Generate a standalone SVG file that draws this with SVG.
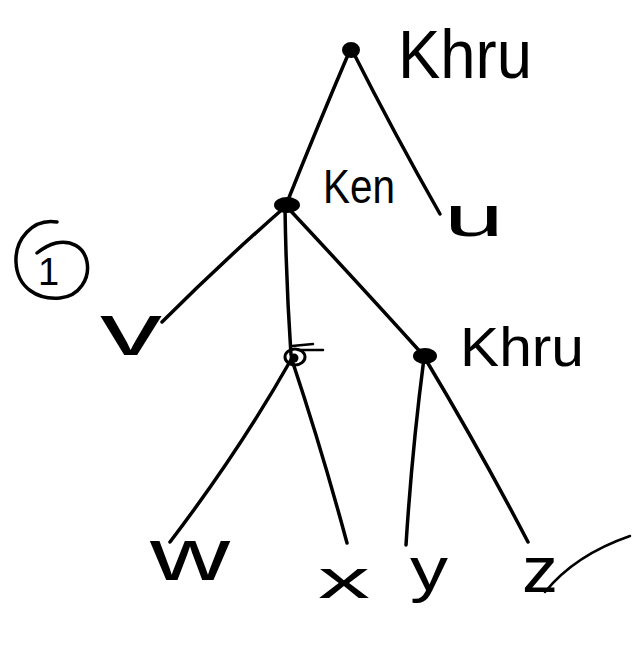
<svg xmlns="http://www.w3.org/2000/svg" width="639" height="646" viewBox="0 0 639 646">
  <style>
    .edge { fill: none; stroke: #000; stroke-width: 3.5; stroke-linecap: round; stroke-linejoin: round; }
    .dot { fill: #000; stroke: #000; stroke-width: 2; }
    .lbl { font-family: "Liberation Sans", "DejaVu Sans", sans-serif; fill: #000; }
  </style>
  <rect width="639" height="646" fill="#fff"/>

  <!-- connectors -->
  <g id="connectors">
    <path class="edge" d="M350 50 Q318 125 286 205"/>
    <path class="edge" d="M352 50 Q395 135 440 214"/>
    <path class="edge" d="M285 207 Q222 262 162 322"/>
    <path class="edge" d="M285 207 Q286 280 291 355"/>
    <path class="edge" d="M288 208 Q360 285 424 356"/>
    <path class="edge" d="M292 358 Q240 450 170 542"/>
    <path class="edge" d="M292 360 Q322 450 347 543"/>
    <path class="edge" d="M424 358 Q412 450 406 545"/>
    <path class="edge" d="M426 360 Q480 450 528 542"/>
    <!-- trailing pen stroke off the z -->
    <path class="edge" style="stroke-width:2.5" d="M545 592 Q575 555 630 536"/>
  </g>

  <!-- circled number -->
  <g id="tag">
    <path class="edge" d="M57 222 C32 218 15 240 16 262 C17 288 38 300 60 298 C80 296 90 278 87 262 C84 246 70 240 56 243 C48 245 42 249 37 253"/>
    <text class="lbl" x="38" y="285" font-size="38">1</text>
  </g>

  <g id="root">
    <ellipse class="dot" cx="351" cy="50" rx="8" ry="7"/>
    <text class="lbl" x="398" y="78" font-size="68" textLength="134" lengthAdjust="spacingAndGlyphs">Khru</text>
  </g>

  <g id="leaf-u">
    <text class="lbl" x="444" y="236" font-size="58" textLength="60" lengthAdjust="spacingAndGlyphs">u</text>
  </g>

  <g id="ken">
    <ellipse class="dot" cx="287" cy="205" rx="12" ry="7"/>
    <text class="lbl" x="323" y="203" font-size="48" textLength="72" lengthAdjust="spacingAndGlyphs">Ken</text>
  </g>

  <g id="leaf-v">
    <text class="lbl" x="100" y="355" font-size="74" textLength="62" lengthAdjust="spacingAndGlyphs">v</text>
  </g>

  <g id="mid">
    <ellipse cx="295" cy="357" rx="10" ry="8" fill="none" stroke="#000" stroke-width="3"/>
    <circle cx="294" cy="358" r="4.5" fill="#000"/>
    <path class="edge" style="stroke-width:2.5" d="M292 346 L313 344 M298 350 L323 350"/>
  </g>

  <g id="khru2">
    <ellipse class="dot" cx="425" cy="356" rx="11" ry="7"/>
    <text class="lbl" x="460" y="366" font-size="56" textLength="124" lengthAdjust="spacingAndGlyphs">Khru</text>
  </g>

  <g id="leaf-w">
    <text class="lbl" x="150" y="580" font-size="74" textLength="80" lengthAdjust="spacingAndGlyphs">w</text>
  </g>

  <g id="leaf-x">
    <text class="lbl" x="318" y="598" font-size="56" textLength="52" lengthAdjust="spacingAndGlyphs">x</text>
  </g>

  <g id="leaf-y">
    <text class="lbl" x="410" y="590" font-size="62" textLength="38" lengthAdjust="spacingAndGlyphs">y</text>
  </g>

  <g id="leaf-z">
    <text class="lbl" x="522" y="592" font-size="64" textLength="36" lengthAdjust="spacingAndGlyphs">z</text>
  </g>
</svg>
